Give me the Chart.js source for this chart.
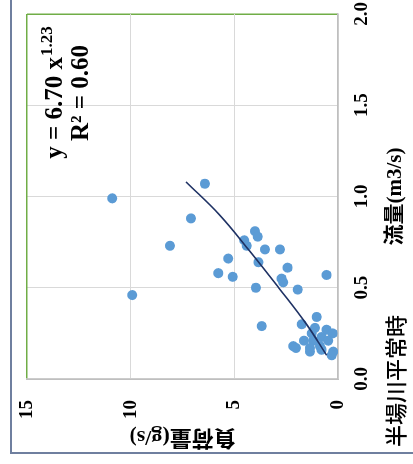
<!DOCTYPE html>
<html lang="ja">
<head>
    <meta charset="UTF-8">
    <title>半場川平常時</title>
    <script src="https://cdn.jsdelivr.net/npm/chart.js"></script>
    <style>
        body { margin: 0; background: #fff; overflow: hidden; }
        /* the chart is drawn upright, then turned a quarter turn left like the reference */
        #wrap {
            position: absolute; left: 0; top: 0;
            width: 464px; height: 413px;
            transform-origin: 0 0;
            transform: translate(0, 464px) rotate(-90deg);
        }
    </style>
</head>
<body>
<div id="wrap">
    <canvas id="myChart" width="464" height="413"></canvas>
</div>

<script type="text/javascript">
    // flow (m3/s) and load (g/s)
    const flow = [1.07, 0.99, 0.88, 0.73, 0.81, 0.78, 0.76, 0.73, 0.71, 0.71,
                  0.66, 0.64, 0.61, 0.58, 0.56, 0.57, 0.55, 0.53, 0.49, 0.50,
                  0.46, 0.29, 0.34, 0.30, 0.28, 0.27, 0.25, 0.25, 0.23, 0.21,
                  0.21, 0.21, 0.18, 0.17, 0.17, 0.18, 0.16, 0.15, 0.15, 0.13];
    const load = [6.42, 10.89, 7.09, 8.10, 4.00, 3.87, 4.52, 4.40, 3.52, 2.80,
                  5.29, 3.84, 2.43, 5.77, 5.08, 0.55, 2.72, 2.64, 1.94, 3.96,
                  9.92, 3.68, 1.03, 1.75, 1.11, 0.55, 0.26, 1.27, 0.79, 1.64,
                  0.47, 1.19, 2.16, 2.03, 1.35, 0.87, 0.79, 1.35, 0.23, 0.30];

    // power trend line
    const trendFlow = [0.13, 0.30, 0.50, 0.70, 0.90, 1.08];
    const trendLoad = [0.55, 1.52, 2.86, 4.25, 5.72, 7.33];

    const flowTicks = [0.0, 0.5, 1.0, 1.5, 2.0];
    const loadTicks = [0, 5, 10, 15];

    const title = '半場川平常時';
    const eqMain = 'y = 6.70 x';
    const eqPow = '1.23';
    const eqR2 = 'R² = 0.60';

    const serif = '"Liberation Serif", "Times New Roman", "Noto Sans CJK JP", serif';

    const toPoints = (xs, ys) => xs.map((x, i) => ({ x: x, y: ys[i] }));

    const extras = {
        id: 'extras',
        beforeDraw(chart) {
            const c = chart.ctx;
            c.save();
            c.strokeStyle = '#6f7f9f';
            c.lineWidth = 2;
            c.strokeRect(11, 11, 600, 600);
            c.restore();
        },
        afterDraw(chart) {
            const c = chart.ctx;
            c.save();
            c.fillStyle = '#000';
            c.textBaseline = 'alphabetic';

            // equation, two centred lines
            const cx = 371;
            c.font = 'bold 25px ' + serif;
            const wMain = c.measureText(eqMain).width;
            c.font = 'bold 17px ' + serif;
            const wPow = c.measureText(eqPow).width;
            let x0 = cx - (wMain + wPow) / 2;
            c.font = 'bold 25px ' + serif;
            c.fillText(eqMain, x0, 62);
            c.font = 'bold 17px ' + serif;
            c.fillText(eqPow, x0 + wMain + 1, 52);
            c.font = 'bold 25px ' + serif;
            c.textAlign = 'center';
            c.fillText(eqR2, cx, 88);

            // series name at the lower left
            c.textAlign = 'left';
            c.textBaseline = 'middle';
            c.font = '500 22px "Noto Sans CJK JP", sans-serif';
            c.fillText(title, 17, 396);
            c.restore();
        }
    };

    const ctx = document.getElementById('myChart');

    let myChart = new Chart(ctx, {
        type: 'scatter',
        data: {
            datasets: [{
                type: 'line',
                label: 'trend',
                data: toPoints(trendFlow, trendLoad),
                borderColor: '#1f3264',
                borderWidth: 1.6,
                pointRadius: 0,
                tension: 0.4,
                fill: false,
                order: 0
            }, {
                label: title,
                data: toPoints(flow, load),
                backgroundColor: '#5b9bd5',
                borderColor: '#5b9bd5',
                borderWidth: 0,
                pointRadius: 5,
                order: 1
            }]
        },
        options: {
            responsive: false,
            animation: false,
            devicePixelRatio: 1,
            layout: { padding: { top: 27, right: 14, left: 0, bottom: 0 } },
            plugins: {
                legend: { display: false },
                tooltip: { enabled: false }
            },
            scales: {
                x: {
                    type: 'linear',
                    min: 0, max: 2.0,
                    afterBuildTicks: s => { s.ticks = flowTicks.map(v => ({ value: v })); },
                    afterFit: s => { s.height = 75; s.paddingLeft = 0; s.paddingRight = 0; },
                    grid: {
                        drawTicks: false,
                        color: c => (c.tick && c.tick.value === 2) ? '#70ad47' : '#d9d9d9',
                        lineWidth: c => (c.tick && c.tick.value === 2) ? 1.5 : 1
                    },
                    border: { color: '#bfbfbf', width: 1.5 },
                    ticks: {
                        padding: 13,
                        color: '#000',
                        maxRotation: 0,
                        font: { family: serif, size: 19, weight: 'bold' },
                        callback: v => Number(v).toFixed(1)
                    },
                    title: {
                        display: true,
                        text: '流量(m3/s)',
                        color: '#000',
                        font: { family: serif, size: 21, weight: 'bold' },
                        padding: { top: 0, bottom: 5 }
                    }
                },
                y: {
                    type: 'linear',
                    min: 0, max: 15,
                    afterBuildTicks: s => { s.ticks = loadTicks.map(v => ({ value: v })); },
                    afterFit: s => { s.width = 85; s.paddingTop = 0; s.paddingBottom = 0; },
                    grid: {
                        drawTicks: false,
                        color: c => (c.tick && c.tick.value === 15) ? '#70ad47' : '#d9d9d9',
                        lineWidth: c => (c.tick && c.tick.value === 15) ? 1.5 : 1
                    },
                    border: { color: '#bfbfbf', width: 1.5 },
                    ticks: {
                        padding: 21,
                        color: '#000',
                        font: { family: serif, size: 19, weight: 'bold' }
                    },
                    title: {
                        display: true,
                        text: '負荷量(g/s)',
                        color: '#000',
                        font: { family: serif, size: 22, weight: 'bold' },
                        padding: { top: 14, bottom: 0 }
                    }
                }
            }
        },
        plugins: [extras]
    });
</script>
</body>
</html>
